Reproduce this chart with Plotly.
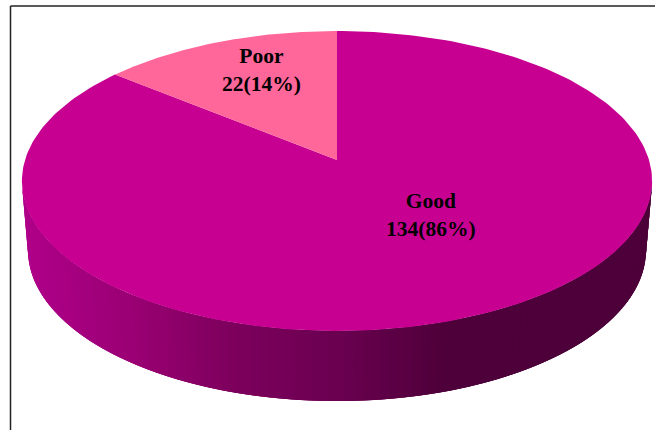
import numpy as np
import plotly.graph_objects as go

# Survey result shown as a tilted, extruded pie
categories = ["Good", "Poor"]
counts = [134, 22]
percents = [86, 14]
slice_colors = ["#C80092", "#FF6699"]
label_x = [431, 261]
label_y = [214.5, 69.5]

# Perspective projection of the unit disc onto the page
TILT = 0.14
TOP_RIM = dict(a=312.0, b=147.0, x0=337.0, y0=160.0)
BASE_RIM = dict(a=306.0, b=148.0, x0=337.0, y0=229.0)

# Side wall shading, as a function of horizontal position
WALL_X = [22, 130, 230, 340, 450, 655]
WALL_R = [176, 155, 125, 106, 77, 77]
WALL_G = [0, 0, 0, 0, 0, 0]
WALL_B = [138, 116, 93, 80, 57, 57]


def project(theta_deg, rim):
    """Map a clockwise-from-top angle on the disc to page coordinates."""
    t = np.radians(theta_deg)
    x, y = np.sin(t), np.cos(t)
    d = 1 + TILT * y
    return rim["x0"] + rim["a"] * x / d, rim["y0"] - rim["b"] * y / d


def wall_color(x):
    r = np.interp(x, WALL_X, WALL_R)
    g = np.interp(x, WALL_X, WALL_G)
    b = np.interp(x, WALL_X, WALL_B)
    return f"rgb({r:.0f},{g:.0f},{b:.0f})"


fig = go.Figure()

# Side wall: bands painted left to right, each overlapping the next few
# so that no background shows through at the joins
edge = np.degrees(np.arccos(-TILT))
wall_angles = np.linspace(360 - edge, edge, 121)
OVERLAP = 3
for i in range(len(wall_angles) - 1):
    arc = wall_angles[i:min(i + 1 + OVERLAP, len(wall_angles))]
    xt, yt = project(arc, TOP_RIM)
    xb, yb = project(arc[::-1], BASE_RIM)
    mx = (project(wall_angles[i], TOP_RIM)[0] + project(wall_angles[i + 1], BASE_RIM)[0]) / 2
    fig.add_trace(go.Scatter(
        x=np.r_[xt, xb, xt[0]], y=np.r_[yt, yb, yt[0]],
        mode="lines", fill="toself", fillcolor=wall_color(mx),
        line=dict(width=0), hoverinfo="skip",
    ))

# Top face: one wedge per category, clockwise from twelve o'clock
total = sum(counts)
start = 0.0
for name, value, color in zip(categories, counts, slice_colors):
    sweep = 360.0 * value / total
    arc = np.linspace(start, start + sweep, 241)
    ax, ay = project(arc, TOP_RIM)
    cx, cy = project(np.array([0.0]), dict(TOP_RIM, a=0.0, b=0.0))
    fig.add_trace(go.Scatter(
        x=np.r_[cx, ax, cx], y=np.r_[cy, ay, cy],
        mode="lines", fill="toself", fillcolor=color,
        line=dict(width=0), hoverinfo="skip", name=name,
    ))
    start += sweep

# Category name with count and share
for name, value, pct, lx, ly in zip(categories, counts, percents, label_x, label_y):
    fig.add_annotation(
        x=lx, y=ly, xref="x", yref="y", showarrow=False,
        text=f"<b>{name}<br>{value}({pct}%)</b>",
        font=dict(family="Liberation Serif", size=21.5, color="#000000"),
        align="center",
    )

# Frame along the top and left of the page
frame = dict(type="line", xref="x", yref="y", line=dict(color="#222222", width=1.5))
fig.add_shape(x0=10.5, x1=655, y0=6, y1=6, **frame)
fig.add_shape(x0=10.5, x1=10.5, y0=6, y1=430, **frame)

fig.update_layout(
    width=655, height=430, margin=dict(l=0, r=0, t=0, b=0),
    paper_bgcolor="#FFFFFF", plot_bgcolor="#FFFFFF", showlegend=False,
    xaxis=dict(range=[0, 655], visible=False, fixedrange=True),
    yaxis=dict(range=[430, 0], visible=False, fixedrange=True),
)

fig.write_html("out.html", config=dict(displayModeBar=False))
